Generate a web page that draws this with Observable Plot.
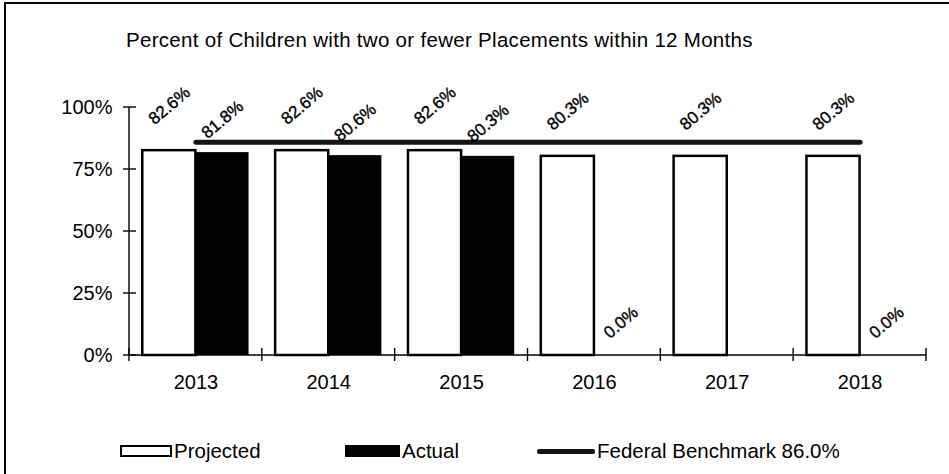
<!DOCTYPE html>
<html><head><meta charset="utf-8">
<script src="https://cdn.jsdelivr.net/npm/d3@7"></script>
<script src="https://cdn.jsdelivr.net/npm/@observablehq/plot@0.6"></script>
<style>
body{margin:0;background:#fff;}
#wrap{position:relative;width:949px;height:474px;overflow:hidden;font-family:"Liberation Sans",Arial,sans-serif;color:#000;background:#fff;}
#border{position:absolute;left:4px;top:2px;width:1000px;height:1000px;border-left:2px solid #000;border-top:2px solid #000;}
#title{position:absolute;left:126px;top:30px;font-size:20.5px;line-height:20px;white-space:nowrap;letter-spacing:0.3px;}
#chart{position:absolute;left:0;top:60px;}
.leg{position:absolute;top:441px;font-size:20.5px;line-height:20px;white-space:nowrap;display:flex;align-items:center;}
.sw{display:inline-block;box-sizing:border-box;margin-right:2px;}
</style></head><body>
<div id="wrap">
<div id="border"></div>
<div id="title"></div>
<div id="chart"></div>
<div id="legend"></div>
</div>
<script>
const years = ["2013", "2014", "2015", "2016", "2017", "2018"];
const projected = [82.6, 82.6, 82.6, 80.3, 80.3, 80.3];
const actual = [81.8, 80.6, 80.3, 0.0, null, 0.0];
const benchmark = [86.0, 86.0, 86.0, 86.0, 86.0, 86.0];
const yTicks = [0, 25, 50, 75, 100];
const titleText = "Percent of Children with two or fewer Placements within 12 Months";
const seriesNames = ["Projected", "Actual", "Federal Benchmark 86.0%"];

const W = 949, H = 340, mL = 129, mR = 23, mT = 47, mB = 45;
const step = (W - mL - mR) / years.length;
const projData = years.map((year, i) => ({year, value: projected[i]}));
const actData = years.map((year, i) => ({year, value: actual[i]})).filter(d => d.value != null);
const benchData = years.map((year, i) => ({year, value: benchmark[i]}));
const fmt = v => v.toFixed(1) + "%";
const font = "'Liberation Sans', Arial, sans-serif";

document.getElementById("title").textContent = titleText;

const chart = Plot.plot({
  width: W, height: H,
  marginLeft: mL, marginRight: mR, marginTop: mT, marginBottom: mB,
  style: {fontFamily: font, fontSize: "20px", color: "#000", background: "transparent", overflow: "visible"},
  x: {domain: years, padding: 0, round: false, tickSize: 0, tickPadding: 19, label: null},
  y: {domain: [0, 100], ticks: yTicks, tickFormat: d => d + "%", tickSize: 0, tickPadding: 17, label: null},
  marks: [
    Plot.barY(projData, {x: "year", y: "value", fill: "white", stroke: "black", strokeWidth: 2.5,
      insetLeft: step * 0.1, insetRight: step * 0.5}),
    Plot.barY(actData, {x: "year", y: "value", fill: "black",
      insetLeft: step * 0.5, insetRight: step * 0.1}),
    Plot.lineY(benchData, {x: "year", y: "value", stroke: "#141414", strokeWidth: 5}),
    Plot.text(projData, {x: "year", y: "value", text: d => fmt(d.value), rotate: -40,
      dx: -step * 0.2, dy: -45, fontSize: 17, fill: "black", stroke: "black", strokeWidth: 0.35}),
    Plot.text(actData, {x: "year", y: "value", text: d => fmt(d.value), rotate: -40,
      dx: step * 0.2, dy: -33, fontSize: 17, fill: "black", stroke: "black", strokeWidth: 0.35})
  ]
});
document.getElementById("chart").appendChild(chart);

// axis lines and crossing tick marks, derived from the plot's scales
const xs = chart.scale("x"), ys = chart.scale("y");
const yPix = v => ys.range[0] + (v - ys.domain[0]) / (ys.domain[1] - ys.domain[0]) * (ys.range[1] - ys.range[0]);
const xa = xs.range[0], xb = xs.range[1];
const bandStep = (xb - xa) / xs.domain.length;
const y0 = yPix(0), yTop = yPix(100);
const g = d3.select(chart).append("g").attr("stroke", "black").attr("stroke-width", 1.4).attr("fill", "none");
g.append("line").attr("x1", xa).attr("x2", xa).attr("y1", yTop).attr("y2", y0);
g.append("line").attr("x1", xa).attr("x2", xb).attr("y1", y0).attr("y2", y0);
yTicks.forEach(t => g.append("line").attr("x1", xa - 6).attr("x2", xa + 7).attr("y1", yPix(t)).attr("y2", yPix(t)));
d3.range(xs.domain.length + 1).forEach(i => {
  const bx = xa + i * bandStep;
  g.append("line").attr("x1", bx).attr("x2", bx).attr("y1", y0 - 7).attr("y2", y0 + 6);
});

// legend
const leg = document.getElementById("legend");
const legItems = [
  {name: seriesNames[0], left: 120, sw: "width:52px;height:12px;border:2.5px solid #000;background:#fff;"},
  {name: seriesNames[1], left: 345, sw: "width:55px;height:12px;background:#000;"},
  {name: seriesNames[2], left: 537, sw: "width:58px;height:5px;background:#141414;border-radius:2px;"}
];
legItems.forEach(it => {
  const d = document.createElement("div");
  d.className = "leg";
  d.style.left = it.left + "px";
  d.innerHTML = `<span class="sw" style="${it.sw}"></span><span>${it.name}</span>`;
  leg.appendChild(d);
});
</script>
</body></html>
